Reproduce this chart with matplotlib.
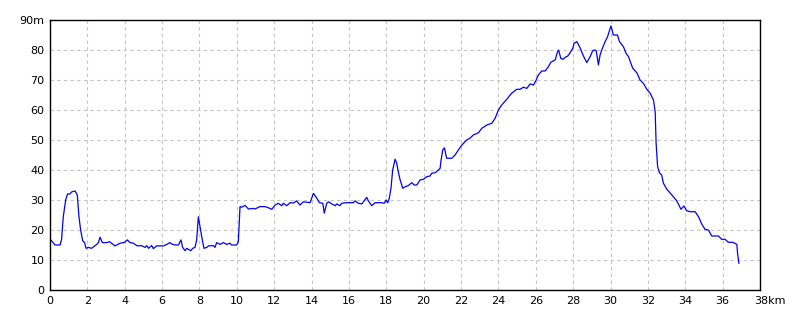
import matplotlib
matplotlib.use("Agg")
import matplotlib.pyplot as plt
import matplotlib.transforms as mtransforms

# distance (km) and elevation (m) read from the profile
dist_km = [
    0.0, 0.27, 0.54, 0.62, 0.71, 0.84, 0.94, 1.07, 1.16, 1.34, 1.46, 1.55, 1.64,
    1.75, 1.85, 1.93, 2.05, 2.23, 2.5, 2.59, 2.68, 2.8, 3.03, 3.19, 3.48, 3.75,
    3.96, 4.14, 4.28, 4.46, 4.67, 4.9, 5.09, 5.18, 5.27, 5.44, 5.53, 5.71, 6.07,
    6.25, 6.42, 6.52, 6.7, 6.87, 7.01, 7.1, 7.23, 7.32, 7.53, 7.64, 7.76, 7.85,
    7.94, 8.03, 8.12, 8.24, 8.39, 8.48, 8.74, 8.83, 8.92, 9.1, 9.28, 9.46, 9.63,
    9.72, 9.99, 10.08, 10.17, 10.26, 10.44, 10.62, 10.88, 10.97, 11.24, 11.51,
    11.69, 11.87, 12.04, 12.22, 12.4, 12.49, 12.67, 12.85, 13.03, 13.2, 13.38,
    13.56, 13.92, 14.1, 14.28, 14.42, 14.6, 14.68, 14.81, 14.9, 15.08, 15.26,
    15.35, 15.52, 15.61, 15.88, 16.24, 16.33, 16.51, 16.69, 16.86, 16.95, 17.04,
    17.22, 17.4, 17.76, 17.88, 17.99, 18.08, 18.16, 18.25, 18.34, 18.47, 18.56,
    18.64, 18.74, 18.88, 19.0, 19.18, 19.36, 19.49, 19.63, 19.81, 19.99, 20.17,
    20.34, 20.43, 20.61, 20.79, 20.88, 20.93, 21.02, 21.11, 21.23, 21.5, 21.68,
    21.86, 22.04, 22.3, 22.48, 22.66, 22.93, 23.11, 23.38, 23.65, 23.82, 24.0,
    24.18, 24.45, 24.71, 24.98, 25.16, 25.34, 25.52, 25.7, 25.88, 26.02, 26.14,
    26.32, 26.5, 26.67, 26.8, 27.04, 27.16, 27.22, 27.34, 27.46, 27.58, 27.71,
    27.84, 27.98, 28.05, 28.2, 28.38, 28.55, 28.73, 28.91, 29.05, 29.17, 29.23,
    29.3, 29.35, 29.44, 29.53, 29.71, 29.84, 29.98, 30.03, 30.15, 30.37, 30.48,
    30.69, 30.83, 30.96, 31.19, 31.41, 31.58, 31.76, 31.94, 32.12, 32.3, 32.39,
    32.44, 32.52, 32.62, 32.74, 32.83, 33.01, 33.28, 33.51, 33.63, 33.77, 33.93,
    34.08, 34.26, 34.53, 34.71, 34.88, 35.06, 35.24, 35.42, 35.78, 35.95, 36.13,
    36.31, 36.55, 36.76, 36.8, 36.87,
]
elev_m = [
    17.0, 15.0, 15.0, 16.9, 24.4, 30.0, 32.0, 32.0, 32.7, 33.0, 31.7, 24.4, 20.0,
    16.4, 15.8, 13.9, 14.2, 13.9, 15.2, 15.8, 17.6, 15.8, 15.8, 16.1, 14.7, 15.6,
    15.8, 16.7, 15.8, 15.6, 14.7, 14.8, 14.2, 14.8, 13.9, 14.8, 13.8, 14.7, 14.7,
    15.2, 15.8, 15.3, 15.0, 15.0, 16.7, 14.2, 13.1, 13.9, 13.1, 13.9, 14.2, 16.7,
    24.4, 21.1, 17.8, 13.9, 14.2, 14.7, 14.8, 14.2, 15.8, 15.2, 15.8, 15.2, 15.6,
    15.0, 15.0, 16.1, 27.8, 27.6, 28.2, 27.0, 27.2, 27.0, 27.8, 27.8, 27.4, 26.9,
    28.3, 28.9, 28.1, 28.9, 28.1, 29.1, 29.0, 29.7, 28.3, 29.4, 29.1, 32.2, 30.6,
    29.1, 28.9, 25.6, 28.9, 29.4, 28.7, 28.1, 28.7, 28.1, 28.9, 29.1, 29.1, 29.7,
    28.9, 28.7, 30.1, 30.9, 29.7, 28.1, 29.1, 29.1, 28.9, 30.0, 29.1, 30.6, 33.9,
    40.0, 43.6, 42.2, 39.4, 36.7, 33.9, 34.4, 34.8, 35.8, 35.0, 35.0, 36.7, 36.9,
    37.8, 38.0, 38.9, 39.1, 40.0, 40.6, 43.3, 46.7, 47.4, 43.9, 43.9, 45.0, 46.7,
    48.3, 50.0, 50.6, 51.7, 52.4, 53.9, 55.0, 55.6, 57.2, 60.0, 61.7, 63.6, 65.6,
    66.9, 66.9, 67.6, 67.2, 68.7, 68.3, 70.0, 71.7, 73.0, 73.0, 74.4, 75.9, 76.7,
    79.4, 80.0, 77.2, 76.9, 77.6, 78.0, 79.1, 80.6, 82.2, 82.8, 80.6, 78.0, 75.8,
    77.8, 79.8, 80.0, 79.8, 77.2, 75.0, 78.3, 80.0, 82.8, 84.4, 87.2, 88.0, 85.0,
    85.0, 82.8, 81.1, 78.9, 77.8, 73.9, 72.4, 70.0, 68.9, 66.9, 65.6, 63.3, 59.4,
    48.9, 41.1, 39.1, 38.3, 35.6, 33.6, 31.7, 30.0, 28.7, 26.9, 28.0, 26.4, 26.1,
    26.1, 24.4, 22.0, 20.2, 20.0, 18.0, 18.0, 16.9, 16.9, 15.9, 15.9, 15.2, 12.2,
    8.9,
]

x_ticks = list(range(0, 40, 2))
x_labels = [str(v) for v in x_ticks[:-1]] + ["38km"]
y_ticks = list(range(0, 100, 10))
y_labels = [str(v) for v in y_ticks[:-1]] + ["90m"]

fig = plt.figure(figsize=(8, 3.2), dpi=100)
ax = fig.add_axes([0.0625, 0.09375, 0.8875, 0.84375])

ax.plot(dist_km, elev_m, color="#0000ff", lw=0.9)

ax.set_xlim(0, 38)
ax.set_ylim(0, 90)
ax.set_xticks(x_ticks)
ax.set_xticklabels(x_labels)
ax.set_yticks(y_ticks)
ax.set_yticklabels(y_labels)
ax.tick_params(length=0, labelsize=8, pad=4)
ax.grid(True, color="#c4c4c4", linestyle=(0, (3, 3)), linewidth=0.8)
for s in ax.spines.values():
    s.set_linewidth(1.0)
    s.set_color("black")

# the last x label starts near the right edge instead of being centred
last = ax.get_xticklabels()[-1]
last.set_ha("left")
last.set_transform(last.get_transform() + mtransforms.ScaledTranslation(-6 / 100, 0, fig.dpi_scale_trans))

fig.savefig("out.png", dpi=100)
